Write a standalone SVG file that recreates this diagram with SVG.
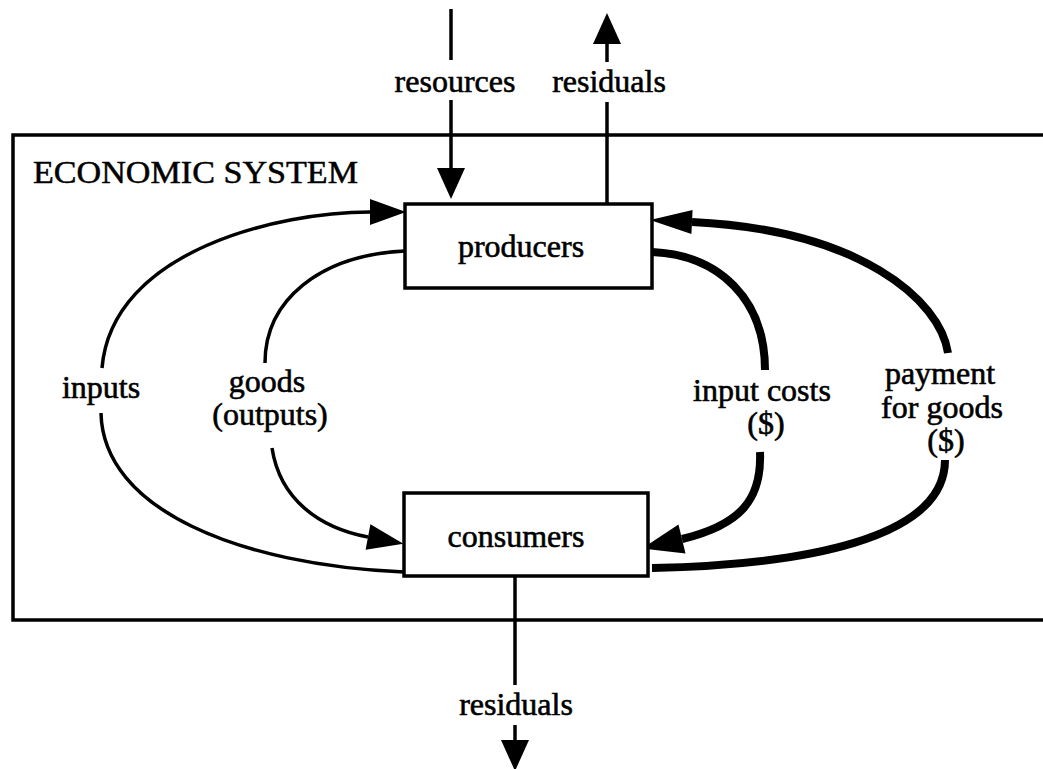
<svg xmlns="http://www.w3.org/2000/svg" width="1043" height="769" viewBox="0 0 1043 769">
  <style>
    .lbl { font-family: "Liberation Serif", "Times New Roman", serif; font-size: 32px; fill: #000; stroke: #000; stroke-width: 0.6; text-anchor: middle; }
    .title { font-family: "Liberation Serif", "Times New Roman", serif; font-size: 32px; fill: #000; stroke: #000; stroke-width: 0.5; }
    .box { fill: #fff; stroke: #000; stroke-width: 3.5; }
    .frame { fill: none; stroke: #000; stroke-width: 3.5; }
    .thin { fill: none; stroke: #000; stroke-width: 3.5; }
    .thick { fill: none; stroke: #000; stroke-width: 8; }
    .head { fill: #000; }
  </style>
  <defs>
    <!-- arrowheads start at the path end and point forward along its tangent -->
    <marker id="arrow" markerUnits="userSpaceOnUse" markerWidth="40" markerHeight="30" refX="0" refY="13" orient="auto" overflow="visible">
      <path d="M0,0 L36,13 L0,26 Z" class="head"/>
    </marker>
    <marker id="arrowBig" markerUnits="userSpaceOnUse" markerWidth="44" markerHeight="32" refX="0" refY="15" orient="auto" overflow="visible">
      <path d="M0,0 L41,15 L0,30 Z" class="head"/>
    </marker>
    <marker id="arrowPay" markerUnits="userSpaceOnUse" markerWidth="44" markerHeight="28" refX="0" refY="12" orient="auto" overflow="visible">
      <path d="M0,0 L42,12 L0,24 Z" class="head"/>
    </marker>
    <marker id="arrowOut" markerUnits="userSpaceOnUse" markerWidth="34" markerHeight="30" refX="0" refY="14" orient="auto" overflow="visible">
      <path d="M0,0 L31,14 L0,28 Z" class="head"/>
    </marker>
  </defs>

  <!-- boundary of the economic system (open to the right) -->
  <g id="economic-system">
    <path class="frame" d="M1050,135 L13,135 L13,620 L1050,620"/>
    <text class="title" x="33" y="183" textLength="325" lengthAdjust="spacingAndGlyphs">ECONOMIC SYSTEM</text>
  </g>

  <g id="connectors">
    <!-- resources entering producers -->
    <line class="thin" x1="451" y1="9" x2="451" y2="60"/>
    <line class="thin" x1="451" y1="100" x2="451" y2="168" marker-end="url(#arrowOut)"/>
    <!-- residuals leaving producers -->
    <line class="thin" x1="607" y1="204" x2="607" y2="102"/>
    <line class="thin" x1="607" y1="62" x2="607" y2="44" marker-end="url(#arrowOut)"/>
    <!-- residuals leaving consumers -->
    <line class="thin" x1="515" y1="577" x2="515" y2="685"/>
    <line class="thin" x1="515" y1="725" x2="515" y2="740" marker-end="url(#arrowOut)"/>

    <!-- inputs: consumers -> producers -->
    <path class="thin" d="M404,572 C240,565 103,510 101,413"/>
    <path class="thin" d="M102,368 C112,250 280,212 370,212" marker-end="url(#arrow)"/>

    <!-- goods (outputs): producers -> consumers -->
    <path class="thin" d="M405,251 C320,255 265,300 265,363"/>
    <path class="thin" d="M272,448 C280,500 320,528 368,537" marker-end="url(#arrow)"/>

    <!-- input costs: producers -> consumers -->
    <path class="thick" d="M652,252 C720,255 765,300 765,370"/>
    <path class="thick" d="M760,452 C762,500 740,525 682,539" marker-end="url(#arrowBig)"/>

    <!-- payment for goods: consumers -> producers -->
    <path class="thick" d="M652,568 C800,565 945,540 945,460"/>
    <path class="thick" d="M948,353 C940,300 860,230 692,222" marker-end="url(#arrowPay)"/>
  </g>

  <g id="producers">
    <rect class="box" x="405" y="204" width="247" height="84"/>
    <text class="lbl" x="521" y="257">producers</text>
  </g>

  <g id="consumers">
    <rect class="box" x="404" y="493" width="244" height="83"/>
    <text class="lbl" x="516" y="547">consumers</text>
  </g>

  <!-- flow labels -->
  <g id="labels">
    <text class="lbl" x="455" y="92">resources</text>
    <text class="lbl" x="609" y="92">residuals</text>
    <text class="lbl" x="516" y="715">residuals</text>
    <text class="lbl" x="101" y="398">inputs</text>
    <text class="lbl" x="267" y="392">goods</text>
    <text class="lbl" x="270" y="425">(outputs)</text>
    <text class="lbl" x="762" y="401">input costs</text>
    <text class="lbl" x="766" y="434">($)</text>
    <text class="lbl" x="940" y="384">payment</text>
    <text class="lbl" x="942" y="418">for goods</text>
    <text class="lbl" x="946" y="451">($)</text>
  </g>
</svg>
